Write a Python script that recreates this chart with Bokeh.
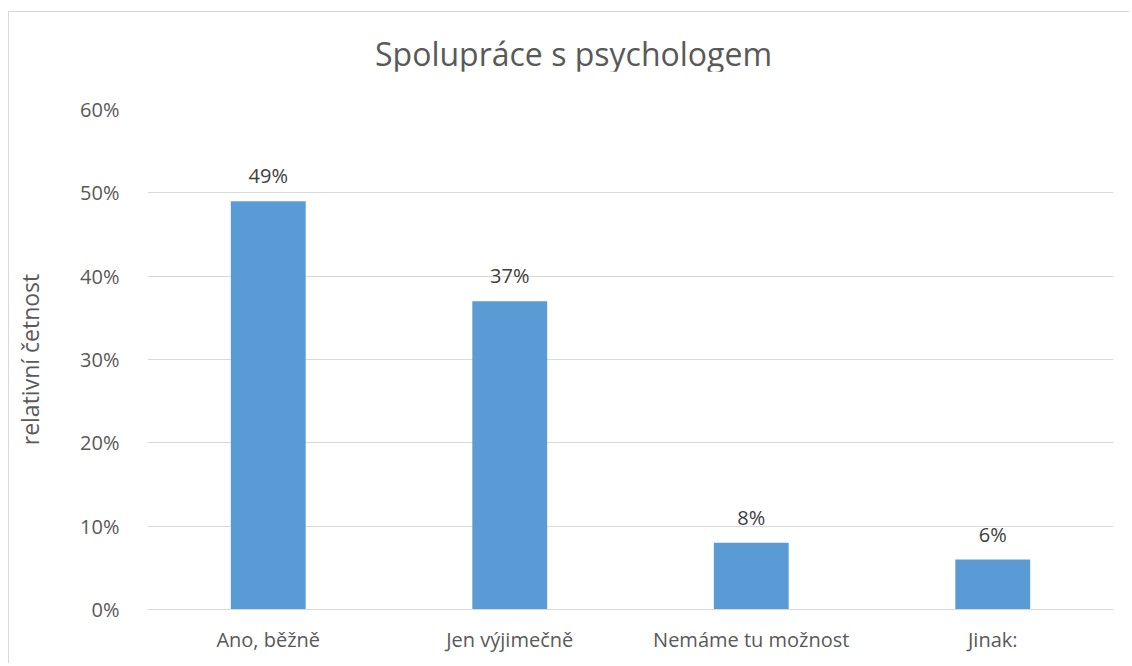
from bokeh.plotting import figure
from bokeh.models import ColumnDataSource, NumeralTickFormatter, LabelSet, FixedTicker, Div
from bokeh.layouts import column
from bokeh.core.properties import value
from bokeh.embed import file_html
from bokeh.resources import INLINE

categories = ["Ano, běžně", "Jen výjimečně", "Nemáme tu možnost", "Jinak:"]
values = [0.49, 0.37, 0.08, 0.06]
value_labels = ["49%", "37%", "8%", "6%"]
y_ticks = [0, 0.1, 0.2, 0.3, 0.4, 0.5, 0.6]
title_text = "Spolupráce s psychologem"
y_label = "relativní četnost"

FONT = "Open Sans"
TXT = "#595959"
GRID = "#d9d9d9"

src = ColumnDataSource(dict(cat=categories, val=values, lab=value_labels))

title_div = Div(
    text=('<div style="padding:23px 0 0 366px; font-family:\'Open Sans\'; font-size:32px; '
          'line-height:38px; color:#595959; white-space:nowrap;">' + title_text + '</div>'),
    width=1121, height=60, margin=(11, 0, 0, 8),
    styles={"border-left": "1px solid #d9d9d9", "border-top": "1px solid #d9d9d9"})

p = figure(x_range=categories, y_range=(0, 0.6), width=1121, height=592,
           output_backend="svg", toolbar_location=None,
           min_border_left=138, min_border_right=17, min_border_top=38, min_border_bottom=54,
           margin=(0, 0, 0, 8))
p.styles = {"border-left": "1px solid #d9d9d9"}
p.outline_line_color = None
p.background_fill_color = "white"
p.title.text = ""
p.title.standoff = 0

p.vbar(x="cat", top="val", width=0.31, source=src, color="#5b9bd5", line_color=None)

p.xgrid.grid_line_color = None
p.ygrid.grid_line_color = GRID
p.ygrid.grid_line_width = 1

p.yaxis.ticker = FixedTicker(ticks=y_ticks)
p.yaxis.formatter = NumeralTickFormatter(format="0%")
p.yaxis.axis_line_color = None
p.yaxis.major_tick_line_color = None
p.yaxis.minor_tick_line_color = None
p.yaxis.major_label_text_font = FONT
p.yaxis.major_label_text_font_size = "20px"
p.yaxis.major_label_text_color = TXT
p.yaxis.major_label_standoff = 22
p.yaxis.axis_label = y_label
p.yaxis.axis_label_text_font = FONT
p.yaxis.axis_label_text_font_size = "23px"
p.yaxis.axis_label_text_font_style = "normal"
p.yaxis.axis_label_text_color = TXT
p.yaxis.axis_label_standoff = 31

p.xaxis.axis_line_color = GRID
p.xaxis.axis_line_width = 1
p.xaxis.major_tick_line_color = None
p.xaxis.minor_tick_line_color = None
p.xaxis.major_label_text_font = FONT
p.xaxis.major_label_text_font_size = "20px"
p.xaxis.major_label_text_color = TXT
p.xaxis.major_label_standoff = 10

labels = LabelSet(x="cat", y="val", text="lab", source=src, y_offset=12,
                  text_align="center", text_baseline="bottom",
                  text_font=value(FONT), text_font_size=value("20px"), text_color=value("#404040"))
p.add_layout(labels)

layout = column(title_div, p, spacing=0)

open("out.html", "w").write(file_html(layout, INLINE))
